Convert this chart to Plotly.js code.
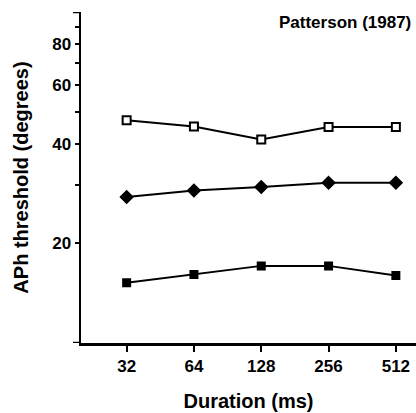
<!DOCTYPE html>
<html>
<head>
<meta charset="utf-8">
<script src="https://cdn.plot.ly/plotly-3.0.1.min.js"></script>
<style>
  html, body { margin: 0; padding: 0; background: #fff; }
  #chart { width: 416px; height: 413px; }
</style>
</head>
<body>
<div id="chart"></div>
<script>
// Stimulus durations (ms) and APh thresholds (degrees) for three conditions
const durations = [32, 64, 128, 256, 512];
const durationLabels = ['32', '64', '128', '256', '512'];
const openSquares = [47.1, 45.1, 41.2, 44.9, 44.9];
const diamonds = [27.6, 28.9, 29.6, 30.5, 30.5];
const filledSquares = [15.2, 16.1, 17.1, 17.1, 16.0];

const yTickVals = [20, 30, 40, 50, 60, 70, 80, 90];
const yTickText = ['20', '', '40', '', '60', '', '80', ''];

const FONT = 'Liberation Sans, Arial, sans-serif';
const bold = s => (s ? '<b>' + s + '</b>' : '');

function series(y, symbol, size, fill) {
  return {
    x: durations,
    y: y,
    type: 'scatter',
    mode: 'lines+markers',
    line: { color: '#000', width: 2 },
    marker: {
      symbol: symbol,
      size: size,
      color: fill,
      line: { color: '#000', width: 2 }
    },
    hoverinfo: 'x+y',
    showlegend: false
  };
}

const data = [
  series(openSquares, 'square', 8, '#fff'),
  series(diamonds, 'diamond', 9, '#000'),
  series(filledSquares, 'square', 7, '#000')
];

const layout = {
  width: 416,
  height: 413,
  margin: { l: 81, r: 0, t: 12, b: 70 },
  paper_bgcolor: '#fff',
  plot_bgcolor: '#fff',
  font: { family: FONT, color: '#000', size: 17 },
  xaxis: {
    type: 'log',
    range: [Math.log10(20), Math.log10(630)],
    tickmode: 'array',
    tickvals: durations,
    ticktext: durationLabels.map(bold),
    ticks: 'outside',
    ticklen: 6,
    tickwidth: 2,
    tickcolor: '#000',
    showline: true,
    linewidth: 2.5,
    linecolor: '#000',
    showgrid: false,
    zeroline: false,
    tickfont: { family: FONT, size: 17 },
    title: {
      text: '<b>Duration (ms)</b>',
      font: { family: FONT, size: 20 },
      standoff: 19
    }
  },
  yaxis: {
    type: 'log',
    range: [1, 2],
    tickmode: 'array',
    tickvals: yTickVals,
    ticktext: yTickText.map(bold),
    ticks: 'outside',
    ticklen: 4,
    tickwidth: 2,
    tickcolor: '#000',
    showline: true,
    linewidth: 2.5,
    linecolor: '#000',
    showgrid: false,
    zeroline: false,
    tickfont: { family: FONT, size: 17 },
    title: {
      text: '<b>APh threshold (degrees)</b>',
      font: { family: FONT, size: 20 },
      standoff: 18
    }
  },
  shapes: [
    // end caps of the vertical axis at 10 and 100
    { type: 'line', xref: 'paper', yref: 'y', x0: -0.024, x1: 0, y0: 10, y1: 10,
      line: { color: '#000', width: 2.5 }, layer: 'above' },
    { type: 'line', xref: 'paper', yref: 'y', x0: -0.024, x1: 0, y0: 100, y1: 100,
      line: { color: '#000', width: 2.5 }, layer: 'above' }
  ],
  annotations: [
    {
      text: '<b>Patterson (1987)</b>',
      xref: 'paper', yref: 'paper',
      x: 0.99, y: 0.968,
      xanchor: 'right', yanchor: 'middle',
      showarrow: false,
      font: { family: FONT, size: 17 }
    }
  ]
};

Plotly.newPlot('chart', data, layout, { displayModeBar: false, staticPlot: true });
</script>
</body>
</html>
